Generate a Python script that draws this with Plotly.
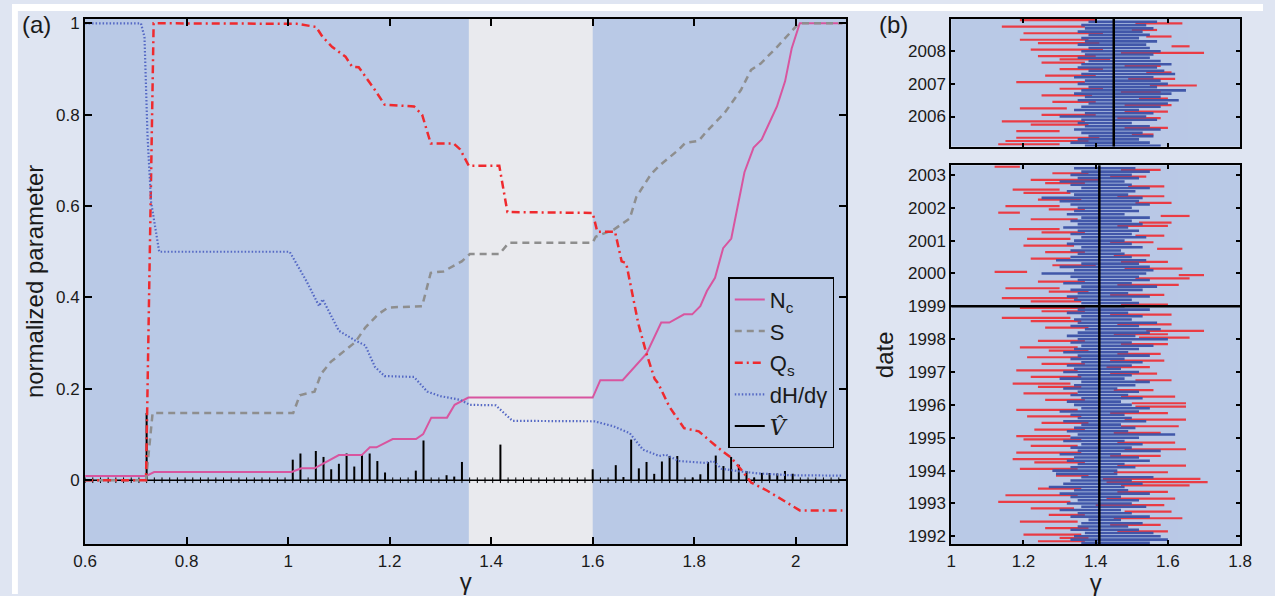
import numpy as np
import plotly.graph_objects as go

# ---------------- panel (a): normalized parameters versus gamma ----------------
gamma_grid = np.linspace(0.6, 2.1, 100)

v_hat = [
    0, 0, 0, 0, 0, 0, 0, 0, 0.147, 0,
    0, 0, 0, 0, 0, 0, 0, 0, 0, 0,
    0, 0, 0, 0, 0, 0, 0, 0.045, 0.0585, 0,
    0.064, 0.051, 0.024, 0.036, 0.0585, 0.030, 0.056, 0.0585, 0.042, 0.017,
    0, 0, 0, 0.021, 0.087, 0, 0, 0.011, 0.008, 0.040,
    0, 0, 0, 0, 0.078, 0, 0, 0, 0, 0,
    0, 0, 0, 0, 0, 0, 0.024, 0, 0, 0.033,
    0.007, 0.089, 0.026, 0.040, 0.014, 0.041, 0.053, 0.053, 0, 0.006,
    0.013, 0.040, 0.054, 0.031, 0.051, 0.034, 0.020, 0.006, 0.016, 0.016,
    0.015, 0.020, 0.014, 0, 0, 0, 0, 0, 0, 0,
]

nc_gamma = [0.6, 0.72, 0.736, 1.007, 1.026, 1.052, 1.100, 1.145, 1.161, 1.174,
            1.206, 1.252, 1.266, 1.282, 1.313, 1.328, 1.355, 1.600, 1.615, 1.659,
            1.706, 1.735, 1.751, 1.780, 1.796, 1.812, 1.825, 1.841, 1.857, 1.873,
            1.899, 1.917, 1.933, 1.963, 1.979, 1.992, 2.008, 2.092]
nc_val = [0.009, 0.009, 0.018, 0.018, 0.026, 0.026, 0.055, 0.055, 0.072, 0.072,
          0.090, 0.090, 0.101, 0.137, 0.137, 0.165, 0.181, 0.181, 0.219, 0.219,
          0.277, 0.345, 0.345, 0.363, 0.363, 0.381, 0.414, 0.443, 0.508, 0.529,
          0.674, 0.728, 0.746, 0.818, 0.873, 0.945, 1.0, 1.0]

s_gamma = [0.6, 0.72, 0.733, 1.010, 1.023, 1.052, 1.065, 1.084, 1.132, 1.152,
           1.177, 1.197, 1.264, 1.281, 1.306, 1.342, 1.358, 1.416, 1.435, 1.600,
           1.606, 1.641, 1.673, 1.686, 1.715, 1.731, 1.770, 1.782, 1.809, 1.825,
           1.860, 1.892, 1.912, 1.931, 1.963, 2.002, 2.010, 2.092]
s_val = [0, 0, 0.147, 0.147, 0.186, 0.194, 0.233, 0.259, 0.302, 0.334,
         0.363, 0.378, 0.381, 0.454, 0.457, 0.479, 0.495, 0.495, 0.520, 0.520,
         0.533, 0.548, 0.573, 0.620, 0.670, 0.688, 0.724, 0.738, 0.743, 0.764,
         0.804, 0.854, 0.898, 0.912, 0.948, 0.995, 1.0, 1.0]

qs_gamma = [0.6, 0.72, 0.735, 1.000, 1.017, 1.055, 1.068, 1.087, 1.113, 1.126,
            1.139, 1.171, 1.190, 1.248, 1.264, 1.281, 1.326, 1.339, 1.356, 1.416,
            1.432, 1.600, 1.609, 1.644, 1.657, 1.666, 1.690, 1.706, 1.722, 1.729,
            1.751, 1.780, 1.809, 1.847, 1.873, 1.892, 1.912, 1.944, 1.976, 2.008,
            2.092]
qs_val = [0, 0, 1.0, 1.0, 0.999, 0.992, 0.970, 0.948, 0.927, 0.905,
          0.904, 0.854, 0.822, 0.818, 0.800, 0.737, 0.737, 0.724, 0.688, 0.688,
          0.587, 0.585, 0.544, 0.544, 0.479, 0.475, 0.342, 0.277, 0.222, 0.212,
          0.161, 0.114, 0.107, 0.071, 0.049, 0.024, -0.005, -0.023, -0.045, -0.066,
          -0.066]

dh_gamma = [0.6, 0.710, 0.717, 0.723, 0.730, 0.740, 0.746, 1.003, 1.016, 1.036,
            1.061, 1.068, 1.100, 1.132, 1.152, 1.171, 1.190, 1.248, 1.274, 1.300,
            1.339, 1.358, 1.409, 1.442, 1.603, 1.641, 1.673, 1.699, 1.731, 1.744,
            1.770, 1.822, 1.838, 1.854, 1.886, 1.925, 1.989, 2.092]
dh_val = [1.0, 1.0, 0.970, 0.753, 0.609, 0.537, 0.500, 0.500, 0.475, 0.436,
          0.381, 0.396, 0.327, 0.306, 0.295, 0.248, 0.228, 0.226, 0.194, 0.184,
          0.176, 0.165, 0.164, 0.130, 0.129, 0.118, 0.103, 0.067, 0.053, 0.056,
          0.042, 0.038, 0.042, 0.025, 0.020, 0.015, 0.011, 0.010]

stable_band = [1.356, 1.6]

# ---------------- panel (b): gamma ranges through time ----------------
# rows every 0.1 year; blue = inner range, red = outer range (drawn half a row above)
early_start, late_start, row_step = 1991.8, 2005.1, 0.1

early_blue_lo = [
    1.36, 1.33,
    1.34, 1.37, 1.33, 1.35, 1.36, 1.38, 1.33, 1.35, 1.30, 1.36,
    1.32, 1.35, 1.33, 1.30, 1.34, 1.27, 1.31, 1.33, 1.36, 1.29,
    1.28, 1.33, 1.35, 1.32, 1.34, 1.30, 1.35, 1.33, 1.36, 1.31,
    1.33, 1.35, 1.32, 1.34, 1.36, 1.31, 1.35, 1.33, 1.30, 1.36,
    1.34, 1.32, 1.36, 1.33, 1.35, 1.31, 1.34, 1.36, 1.30, 1.35,
    1.31, 1.34, 1.32, 1.36, 1.33, 1.35, 1.31, 1.34, 1.36, 1.33,
    1.35, 1.32, 1.35, 1.37, 1.33, 1.35, 1.34, 1.36, 1.32, 1.35,
    1.33, 1.36, 1.34, 1.32, 1.35, 1.33, 1.36, 1.31, 1.35, 1.33,
    1.25, 1.34, 1.30, 1.36, 1.29, 1.33, 1.35, 1.33, 1.36, 1.32,
    1.34, 1.36, 1.33, 1.35, 1.31, 1.35, 1.33, 1.36, 1.32, 1.34,
    1.35, 1.33, 1.30, 1.25, 1.34, 1.32, 1.36, 1.33, 1.30, 1.35,
    1.33, 1.36, 1.34,
]
early_blue_hi = [
    1.55, 1.60,
    1.58, 1.56, 1.52, 1.49, 1.53, 1.47, 1.55, 1.50, 1.47, 1.54,
    1.50, 1.52, 1.47, 1.55, 1.49, 1.48, 1.53, 1.50, 1.56, 1.46,
    1.46, 1.51, 1.48, 1.55, 1.52, 1.47, 1.58, 1.50, 1.53, 1.48,
    1.52, 1.62, 1.49, 1.51, 1.47, 1.54, 1.50, 1.48, 1.52, 1.55,
    1.50, 1.47, 1.53, 1.49, 1.52, 1.46, 1.51, 1.55, 1.48, 1.50,
    1.52, 1.47, 1.50, 1.53, 1.48, 1.55, 1.49, 1.52, 1.56, 1.50,
    1.60, 1.51, 1.55, 1.58, 1.52, 1.57, 1.50, 1.53, 1.49, 1.55,
    1.48, 1.52, 1.50, 1.55, 1.49, 1.53, 1.57, 1.50, 1.55, 1.52,
    1.54, 1.56, 1.55, 1.52, 1.54, 1.50, 1.48, 1.47, 1.53, 1.50,
    1.48, 1.54, 1.50, 1.52, 1.49, 1.53, 1.50, 1.55, 1.48, 1.52,
    1.50, 1.55, 1.52, 1.53, 1.49, 1.51, 1.55, 1.50, 1.48, 1.52,
    1.50, 1.55, 1.51,
]
early_red_lo = [
    1.24, 1.30,
    1.20, 1.46, 1.26, 1.44, 1.19, 1.45, 1.27, 1.48, 1.22, 1.40,
    1.13, 1.43, 1.15, 1.46, 1.24, 1.47, 1.43, 1.42, 1.29, 1.45,
    1.19, 1.46, 1.23, 1.17, 1.44, 1.18, 1.48, 1.22, 1.46, 1.20,
    1.18, 1.45, 1.23, 1.47, 1.25, 1.48, 1.21, 1.44, 1.18, 1.51,
    1.50, 1.26, 1.47, 1.20, 1.45, 1.24, 1.17, 1.51, 1.22, 1.44,
    1.18, 1.43, 1.25, 1.44, 1.21, 1.46, 1.27, 1.19, 1.47, 1.24,
    1.52, 1.45, 1.54, 1.26, 1.46, 1.22, 1.14, 1.44, 1.25, 1.19,
    1.47, 1.22, 1.14, 1.44, 1.27, 1.15, 1.46, 1.24, 1.51, 1.63,
    1.12, 1.48, 1.28, 1.47, 1.22, 1.45, 1.26, 1.57, 1.20, 1.44,
    1.21, 1.51, 1.25, 1.16, 1.46, 1.52, 1.22, 1.58, 1.13, 1.27,
    1.15, 1.51, 1.24, 1.46, 1.20, 1.17, 1.49, 1.26, 1.22, 1.44,
    1.28, 1.47, 1.12,
]
early_red_hi = [
    1.37, 1.38,
    1.36, 1.60, 1.38, 1.58, 1.35, 1.64, 1.37, 1.61, 1.34, 1.59,
    1.33, 1.62, 1.35, 1.60, 1.36, 1.66, 1.71, 1.69, 1.38, 1.60,
    1.35, 1.65, 1.37, 1.34, 1.58, 1.36, 1.65, 1.35, 1.62, 1.36,
    1.33, 1.58, 1.37, 1.63, 1.38, 1.65, 1.36, 1.60, 1.35, 1.65,
    1.65, 1.37, 1.62, 1.35, 1.56, 1.36, 1.33, 1.61, 1.36, 1.57,
    1.35, 1.55, 1.37, 1.59, 1.36, 1.58, 1.38, 1.35, 1.60, 1.37,
    1.66, 1.60, 1.70, 1.38, 1.61, 1.36, 1.33, 1.61, 1.37, 1.37,
    1.60, 1.36, 1.35, 1.59, 1.38, 1.30, 1.63, 1.37, 1.66, 1.70,
    1.21, 1.64, 1.40, 1.60, 1.33, 1.55, 1.37, 1.64, 1.34, 1.56,
    1.33, 1.59, 1.37, 1.30, 1.60, 1.61, 1.35, 1.66, 1.19, 1.37,
    1.30, 1.61, 1.36, 1.59, 1.33, 1.30, 1.59, 1.37, 1.41, 1.54,
    1.38, 1.58, 1.19,
]

late_blue_lo = [
    1.37, 1.33, 1.35, 1.38, 1.36, 1.34, 1.37, 1.35, 1.36,
    1.30, 1.37, 1.34, 1.36, 1.38, 1.35, 1.37, 1.34, 1.36, 1.38,
    1.35, 1.37, 1.34, 1.36, 1.38, 1.35, 1.36, 1.38, 1.35, 1.37,
    1.36, 1.38, 1.35, 1.37, 1.36, 1.38, 1.35, 1.37, 1.36, 1.38,
]
late_blue_hi = [
    1.58, 1.55, 1.52, 1.56, 1.53, 1.58, 1.55, 1.50, 1.57,
    1.54, 1.56, 1.52, 1.58, 1.60, 1.63, 1.58, 1.61, 1.65, 1.57,
    1.60, 1.58, 1.56, 1.62, 1.59, 1.57, 1.61, 1.58, 1.55, 1.56,
    1.58, 1.55, 1.54, 1.57, 1.52, 1.55, 1.53, 1.56, 1.54, 1.57,
]
late_red_lo = [
    1.13, 1.15, 1.18, 1.50, 1.18, 1.48, 1.22, 1.14, 1.46,
    1.25, 1.48, 1.19, 1.48, 1.28, 1.52, 1.25, 1.47, 1.30, 1.55,
    1.18, 1.49, 1.26, 1.54, 1.30, 1.48, 1.25, 1.30, 1.24, 1.47,
    1.22, 1.61, 1.24, 1.19, 1.54, 1.20, 1.50, 1.14, 1.51, 1.19,
]
late_red_hi = [
    1.30, 1.38, 1.41, 1.56, 1.30, 1.60, 1.38, 1.37, 1.58,
    1.40, 1.60, 1.32, 1.61, 1.40, 1.60, 1.39, 1.58, 1.42, 1.68,
    1.37, 1.62, 1.40, 1.61, 1.42, 1.58, 1.37, 1.44, 1.40, 1.70,
    1.42, 1.66, 1.41, 1.38, 1.61, 1.42, 1.57, 1.37, 1.64, 1.40,
]

center_gamma_late = 1.45
center_gamma_early = 1.41
break_year = 1999

# ---------------- styling ----------------
FONT = "Liberation Sans, Arial, sans-serif"
TXT = "#1a1a1a"
PAGE_BG = "#dfe5f2"
PLOT_BG = "#b9c9e6"
BAND_BG = "#e9eaee"
RED_B = "#ee3038"
BLUE_B = "#3a52a6"

W, H = 1275, 596


def px_x(p):
    return p / W


def px_y(p):
    return 1 - p / H


fig = go.Figure()


def segments(lo, hi, rows):
    xs, ys = [], []
    for a, b, r in zip(lo, hi, rows):
        xs += [a, b, None]
        ys += [r, r, None]
    return xs, ys


# V-hat stems, baseline and sample marks
stem_x, stem_y = [], []
for g, v in zip(gamma_grid, v_hat):
    if v > 0:
        stem_x += [g, g, None]
        stem_y += [0, v, None]

fig.add_trace(go.Scatter(x=[gamma_grid[0], gamma_grid[-1]], y=[0, 0], mode="lines",
                         line=dict(color="black", width=1.5), showlegend=False,
                         hoverinfo="skip", xaxis="x", yaxis="y"))
fig.add_trace(go.Scatter(x=gamma_grid, y=np.zeros(len(gamma_grid)), mode="markers",
                         marker=dict(symbol="line-ns", size=4,
                                     line=dict(color="black", width=1)),
                         showlegend=False, hoverinfo="skip", xaxis="x", yaxis="y"))
fig.add_trace(go.Scatter(x=stem_x, y=stem_y, mode="lines",
                         name="<span style='font-family:DejaVu Serif'><i>V̂</i></span>",
                         line=dict(color="black", width=2), legendrank=5,
                         xaxis="x", yaxis="y"))

fig.add_trace(go.Scatter(x=nc_gamma, y=nc_val, mode="lines", name="N<sub>c</sub>",
                         line=dict(color="#d8559f", width=2), legendrank=1,
                         xaxis="x", yaxis="y"))
fig.add_trace(go.Scatter(x=s_gamma, y=s_val, mode="lines", name="S",
                         line=dict(color="#8e8e8e", width=2.5, dash="7px,5px"),
                         legendrank=2, xaxis="x", yaxis="y"))
fig.add_trace(go.Scatter(x=qs_gamma, y=qs_val, mode="lines", name="Q<sub>s</sub>",
                         line=dict(color="#ef2a2e", width=2.5, dash="8px,4px,2px,4px"),
                         legendrank=3, xaxis="x", yaxis="y"))
fig.add_trace(go.Scatter(x=dh_gamma, y=dh_val, mode="lines", name="dH/dγ",
                         line=dict(color="#5468c4", width=2.2, dash="1.5px,2px"),
                         legendrank=4, xaxis="x", yaxis="y"))

# panel (b) segments
early_rows = [early_start + i * row_step for i in range(len(early_blue_lo))]
late_rows = [late_start + i * row_step for i in range(len(late_blue_lo))]

for lo, hi, rows, xa, ya in [
    (early_red_lo, early_red_hi, [r + row_step / 2 for r in early_rows], "x3", "y3"),
    (late_red_lo, late_red_hi, [r + row_step / 2 for r in late_rows], "x2", "y2"),
]:
    xs, ys = segments(lo, hi, rows)
    fig.add_trace(go.Scatter(x=xs, y=ys, mode="lines", line=dict(color=RED_B, width=2.2),
                             opacity=0.92, showlegend=False, hoverinfo="skip",
                             xaxis=xa, yaxis=ya))
for lo, hi, rows, xa, ya in [
    (early_blue_lo, early_blue_hi, early_rows, "x3", "y3"),
    (late_blue_lo, late_blue_hi, late_rows, "x2", "y2"),
]:
    xs, ys = segments(lo, hi, rows)
    fig.add_trace(go.Scatter(x=xs, y=ys, mode="lines", line=dict(color=BLUE_B, width=2.6),
                             opacity=0.95, showlegend=False, hoverinfo="skip",
                             xaxis=xa, yaxis=ya))

axis_common = dict(showline=True, linecolor="black", linewidth=2, mirror="ticks",
                   ticks="inside", tickcolor="black", tickwidth=1.5, showgrid=False,
                   zeroline=False, tickfont=dict(family=FONT, size=17, color=TXT))

a_dom_x = [px_x(74.5), px_x(850.5)]
b_dom_x = [px_x(957.3), px_x(1251.7)]

fig.update_layout(
    width=W, height=H,
    margin=dict(l=0, r=0, t=0, b=0),
    paper_bgcolor=PAGE_BG, plot_bgcolor=PLOT_BG,
    font=dict(family=FONT, color=TXT),
    xaxis=dict(axis_common, domain=a_dom_x, range=[0.6, 2.1], ticklen=7,
               tickvals=[0.6, 0.8, 1.0, 1.2, 1.4, 1.6, 1.8, 2.0],
               ticktext=["0.6", "0.8", "1", "1.2", "1.4", "1.6", "1.8", "2"],
               title=dict(text="γ", font=dict(size=24, family=FONT), standoff=4),
               anchor="y"),
    yaxis=dict(axis_common, domain=[px_y(545.7), px_y(14.7)], range=[-0.14, 1.0104],
               ticklen=7, tickvals=[0, 0.2, 0.4, 0.6, 0.8, 1.0],
               ticktext=["0", "0.2", "0.4", "0.6", "0.8", "1"],
               title=dict(text="normalized parameter", font=dict(size=24, family=FONT),
                          standoff=6),
               anchor="x"),
    xaxis2=dict(axis_common, domain=b_dom_x, range=[1, 1.8], ticklen=4,
                tickvals=[1.2, 1.4, 1.6], showticklabels=False, anchor="y2"),
    yaxis2=dict(axis_common, domain=[px_y(144), px_y(14.7)], range=[2005.08, 2009.0],
                ticklen=4, tickvals=[2006, 2007, 2008], ticktext=["2006", "2007", "2008"],
                anchor="x2"),
    xaxis3=dict(axis_common, domain=b_dom_x, range=[1, 1.8], ticklen=4,
                tickvals=[1.0, 1.2, 1.4, 1.6, 1.8],
                ticktext=["1", "1.2", "1.4", "1.6", "1.8"],
                title=dict(text="γ", font=dict(size=24, family=FONT), standoff=5),
                anchor="y3"),
    yaxis3=dict(axis_common, domain=[px_y(545.7), px_y(163)],
                range=[1991.76, 2003.29], ticklen=4,
                tickvals=list(range(1992, 2004)),
                ticktext=[str(y) for y in range(1992, 2004)],
                title=dict(text="date", font=dict(size=24, family=FONT), standoff=8),
                anchor="x3"),
    legend=dict(x=px_x(730), y=px_y(276), xanchor="left", yanchor="top",
                bgcolor="rgba(0,0,0,0)", bordercolor="black", borderwidth=1.5,
                font=dict(family=FONT, size=22, color=TXT), itemwidth=30,
                traceorder="normal"),
    showlegend=True,
)

shapes = [
    dict(type="rect", xref="x", yref="y domain", x0=stable_band[0], x1=stable_band[1],
         y0=0, y1=1, fillcolor=BAND_BG, line=dict(width=0), layer="below"),
    dict(type="line", xref="x2", yref="y2 domain", x0=center_gamma_late,
         x1=center_gamma_late, y0=0, y1=1, line=dict(color="black", width=2.5)),
    dict(type="line", xref="x3", yref="y3 domain", x0=center_gamma_early,
         x1=center_gamma_early, y0=0, y1=1, line=dict(color="black", width=2.5)),
    dict(type="line", xref="x3 domain", yref="y3", x0=0, x1=1, y0=break_year,
         y1=break_year, line=dict(color="black", width=2.5)),
    # white page edges along the top and left
    dict(type="rect", xref="paper", yref="paper", x0=0, x1=1, y0=px_y(7), y1=1,
         fillcolor="white", line=dict(width=0), layer="above"),
    dict(type="rect", xref="paper", yref="paper", x0=0, x1=px_x(6), y0=0, y1=1,
         fillcolor="white", line=dict(width=0), layer="above"),
]
fig.update_layout(shapes=shapes)

fig.add_annotation(text="(a)", xref="paper", yref="paper", x=px_x(8), y=px_y(21),
                   xanchor="left", yanchor="middle", showarrow=False,
                   font=dict(family=FONT, size=24, color=TXT))
fig.add_annotation(text="(b)", xref="paper", yref="paper", x=px_x(882), y=px_y(21),
                   xanchor="left", yanchor="middle", showarrow=False,
                   font=dict(family=FONT, size=24, color=TXT))

fig.write_html("out.html")
